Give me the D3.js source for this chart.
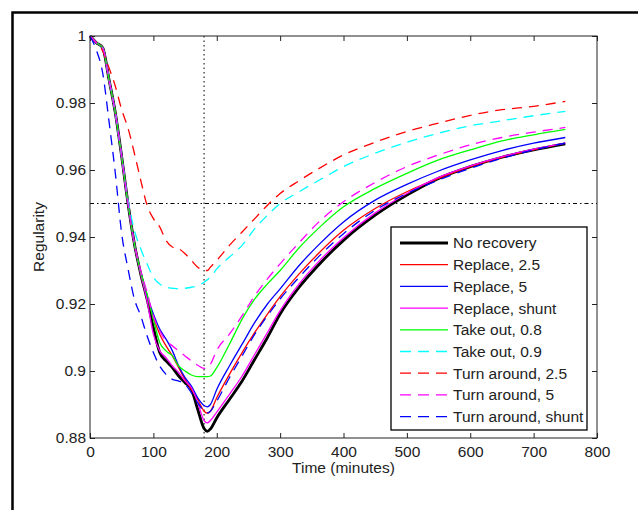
<!DOCTYPE html>
<html>
<head>
<meta charset="utf-8">
<script src="https://cdn.jsdelivr.net/npm/d3@7"></script>
<style>
  html, body { margin: 0; padding: 0; background: #fff; }
  svg { display: block; }
  text { font-family: "Liberation Sans", Arial, Helvetica, sans-serif; }
</style>
</head>
<body>
<svg id="chart" width="638" height="510"></svg>
<script>
// ---------- data ----------
const time = [0,10,20,30,40,50,60,70,80,90,100,110,120,130,140,150,160,170,180,185,190,200,220,240,260,280,300,330,360,400,450,500,550,600,650,700,750];

const noRecovery    = [1.000,0.998,0.9965,0.987,0.977,0.964,0.950,0.938,0.929, 0.9215,0.913,0.9055,0.903,0.901,0.8985,0.8965,0.8945,0.8885,0.8828,0.882,0.8827,0.886, 0.8915,0.897,0.9035,0.910,0.917,0.925,0.9315,0.939,0.9465,0.9525,0.9575,0.961,0.9638,0.966,0.9678];
const replace25     = [1.000,0.998,0.9965,0.987,0.977,0.964,0.950,0.938,0.9295, 0.9225,0.916,0.911,0.9075,0.9045,0.901,0.8975,0.8945,0.8915,0.888,0.8874,0.888,0.892, 0.899,0.9055,0.9115,0.917,0.9222,0.929,0.935,0.942,0.9485,0.9535,0.9575,0.961,0.9638,0.966,0.968];
const replace5      = [1.000,0.998,0.9965,0.987,0.977,0.964,0.950,0.938,0.9295, 0.9225,0.917,0.9125,0.9095,0.906,0.9015,0.898,0.8955,0.892,0.8897,0.8893,0.890,0.8945, 0.9015,0.908,0.9145,0.920,0.9245,0.9315,0.9375,0.9445,0.951,0.9557,0.9597,0.963,0.9658,0.968,0.9697];
const replaceShunt  = [1.000,0.998,0.9965,0.987,0.977,0.964,0.950,0.938,0.929, 0.921,0.911,0.906,0.904,0.9015,0.8995,0.897,0.895,0.8905,0.8852,0.8845,0.8852,0.8877, 0.893,0.8985,0.905,0.9115,0.918,0.926,0.9325,0.9398,0.9472,0.953,0.9578,0.9612,0.964,0.9662,0.968];
const takeOut08     = [1.000,0.998,0.9965,0.987,0.977,0.964,0.950,0.938,0.9295, 0.923,0.9155,0.9085,0.906,0.9045,0.9015,0.900,0.8988,0.8983,0.8983,0.8983,0.8985,0.901, 0.908,0.9155,0.9215,0.926,0.930,0.9368,0.9425,0.949,0.9545,0.959,0.963,0.966,0.9687,0.9705,0.9721];
const takeOut09     = [1.000,0.998,0.9965,0.987,0.977,0.964,0.951,0.942,0.9365, 0.932,0.928,0.926,0.925,0.9247,0.9245,0.9247,0.925,0.9255,0.9265,0.9272,0.928,0.9305, 0.934,0.9375,0.9425,0.9465,0.950,0.9535,0.9568,0.961,0.965,0.9683,0.971,0.9732,0.9747,0.9762,0.9775];
const turnAround25  = [1.000,0.998,0.9955,0.9905,0.985,0.978,0.9725,0.965,0.957, 0.9495,0.9455,0.943,0.939,0.937,0.9365,0.935,0.933,0.931,0.930,0.930,0.931,0.933, 0.9375,0.9415,0.9455,0.9495,0.953,0.9568,0.9603,0.9645,0.9683,0.9715,0.974,0.9763,0.978,0.979,0.9805];
const turnAround5   = [1.000,0.998,0.9965,0.987,0.977,0.964,0.950,0.938,0.930, 0.9235,0.9165,0.912,0.909,0.9075,0.906,0.9045,0.903,0.9017,0.9008,0.901,0.902,0.9062, 0.911,0.9165,0.9225,0.9275,0.932,0.9383,0.9443,0.9505,0.9563,0.961,0.9645,0.9675,0.9697,0.9713,0.9727];
const turnAroundSh  = [1.000,0.9958,0.989,0.9745,0.959,0.941,0.9305,0.9215,0.9165, 0.9105,0.9055,0.9015,0.899,0.8975,0.897,0.896,0.8935,0.8905,0.888,0.8875,0.888,0.891, 0.898,0.9045,0.911,0.9165,0.9215,0.928,0.934,0.941,0.948,0.953,0.957,0.9605,0.9635,0.966,0.968];

const seriesNames  = ["No recovery","Replace, 2.5","Replace, 5","Replace, shunt","Take out, 0.8","Take out, 0.9","Turn around, 2.5","Turn around, 5","Turn around, shunt"];
const seriesValues = [noRecovery, replace25, replace5, replaceShunt, takeOut08, takeOut09, turnAround25, turnAround5, turnAroundSh];
const seriesColors = ["#000000","#ff0000","#0000ff","#ff00ff","#00ff00","#00ffff","#ff0000","#ff00ff","#0000ff"];
const seriesDashed = [false,false,false,false,false,true,true,true,true];

const xTicks = [0,100,200,300,400,500,600,700,800];
const yTicks = [0.88,0.9,0.92,0.94,0.96,0.98,1];
const refTime = 180;
const refRegularity = 0.95;

// ---------- layout ----------
const svg = d3.select("#chart");
const L = 90, R = 597, T = 36, B = 438;
const x = d3.scaleLinear().domain([0, 800]).range([L, R]);
const y = d3.scaleLinear().domain([0.88, 1]).range([B, T]);
const FONT = 15.5, TXT = "#222";

// outer frame
svg.append("rect").attr("x", 12.5).attr("y", 12.5).attr("width", 700).attr("height", 600)
  .attr("fill", "none").attr("stroke", "#000").attr("stroke-width", 2.5);

// axes (ticks inside, box on)
const tk = 5;
const gx = svg.append("g").attr("transform", `translate(0,${B})`)
  .call(d3.axisBottom(x).tickValues(xTicks).tickSize(-tk).tickPadding(8).tickFormat(d3.format("d")));
const gxt = svg.append("g").attr("transform", `translate(0,${T})`)
  .call(d3.axisTop(x).tickValues(xTicks).tickSize(-tk).tickFormat(""));
const gy = svg.append("g").attr("transform", `translate(${L},0)`)
  .call(d3.axisLeft(y).tickValues(yTicks).tickSize(-tk).tickPadding(4).tickFormat(d => String(+d.toFixed(2))));
const gyr = svg.append("g").attr("transform", `translate(${R},0)`)
  .call(d3.axisRight(y).tickValues(yTicks).tickSize(-tk).tickFormat(""));
[gx, gxt, gy, gyr].forEach(g => {
  g.select(".domain").remove();
  g.selectAll(".tick line").attr("stroke", "#222").attr("stroke-width", 1);
  g.selectAll(".tick text").attr("font-size", FONT).attr("fill", TXT)
    .style("font-family", '"Liberation Sans", Arial, sans-serif');
});

// reference lines
svg.append("line").attr("x1", x(refTime)).attr("x2", x(refTime)).attr("y1", T).attr("y2", B)
  .attr("stroke", "#000").attr("stroke-width", 1).attr("stroke-dasharray", "1.5,3");
svg.append("line").attr("x1", L).attr("x2", R).attr("y1", y(refRegularity)).attr("y2", y(refRegularity))
  .attr("stroke", "#000").attr("stroke-width", 1).attr("stroke-dasharray", "4,3,1.5,3");

// series
const line = d3.line().x((d, i) => x(time[i])).y(d => y(d)).curve(d3.curveMonotoneX);
seriesValues.forEach((vals, k) => {
  svg.append("path").datum(vals).attr("d", line)
    .attr("fill", "none").attr("stroke", seriesColors[k])
    .attr("stroke-width", k === 0 ? 2.8 : 1.3)
    .attr("stroke-dasharray", seriesDashed[k] ? "10,7" : null);
});

// plot box
svg.append("rect").attr("x", L).attr("y", T).attr("width", R - L).attr("height", B - T)
  .attr("fill", "none").attr("stroke", "#222").attr("stroke-width", 1);

// axis labels
svg.append("text").attr("x", (L + R) / 2).attr("y", 473).attr("text-anchor", "middle")
  .attr("font-size", FONT).attr("fill", TXT).text("Time (minutes)");
svg.append("text").attr("transform", `translate(44,${(T + B) / 2}) rotate(-90)`).attr("text-anchor", "middle")
  .attr("font-size", FONT).attr("fill", TXT).text("Regularity");

// legend
const lg = svg.append("g");
lg.append("rect").attr("x", 391).attr("y", 227).attr("width", 196).attr("height", 203)
  .attr("fill", "#fff").attr("stroke", "#000").attr("stroke-width", 1.3);
seriesNames.forEach((name, k) => {
  const yy = 243 + k * 21.7;
  lg.append("line").attr("x1", 400).attr("x2", 448).attr("y1", yy).attr("y2", yy)
    .attr("stroke", seriesColors[k]).attr("stroke-width", k === 0 ? 2.8 : 1.3)
    .attr("stroke-dasharray", seriesDashed[k] ? "11,7" : null);
  lg.append("text").attr("x", 453).attr("y", yy).attr("dy", "0.35em")
    .attr("font-size", FONT).attr("fill", TXT).text(name);
});
</script>
</body>
</html>
